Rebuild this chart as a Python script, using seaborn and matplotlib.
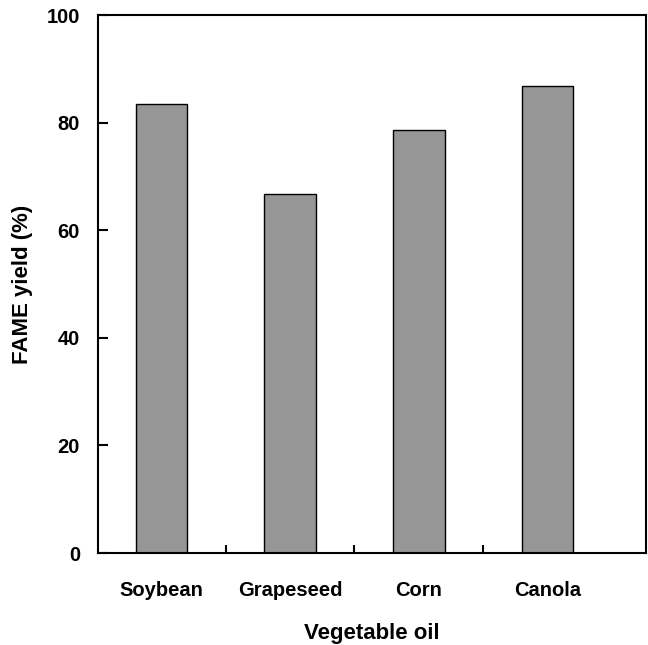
import matplotlib
matplotlib.use("Agg")
import matplotlib.pyplot as plt
import seaborn as sns
import pandas as pd
from matplotlib.ticker import FixedLocator

oils = ["Soybean", "Grapeseed", "Corn", "Canola"]
fame_yield = [83.5, 66.8, 78.6, 86.8]
y_ticks = [0, 20, 40, 60, 80, 100]

sns.set_style("ticks")
plt.rcParams['font.family'] = ['Liberation Sans', 'DejaVu Sans']
plt.rcParams['font.weight'] = 'bold'
plt.rcParams['text.color'] = 'black'
plt.rcParams['axes.labelcolor'] = 'black'
plt.rcParams['xtick.color'] = 'black'
plt.rcParams['ytick.color'] = 'black'

df = pd.DataFrame({"oil": oils, "yield": fame_yield})

fig = plt.figure(figsize=(6.48, 6.45), dpi=100)
ax = fig.add_axes([0.1512, 0.1426, 0.8457, 0.8341])

sns.barplot(data=df, x="oil", y="yield", ax=ax, color="#969696",
            saturation=1, width=0.4, edgecolor="black", linewidth=1.0)

ax.set_xlim(-0.492, 3.764)
ax.set_ylim(0, 100)
ax.set_yticks(y_ticks)
ax.set_yticklabels([str(t) for t in y_ticks], fontsize=14.5, fontweight='bold')
ax.set_xticks(range(len(oils)))
ax.set_xticklabels(oils, fontsize=14.5, fontweight='bold')
ax.xaxis.set_minor_locator(FixedLocator([0.5, 1.5, 2.5]))

ax.tick_params(axis='x', which='major', length=0, pad=20, labelcolor='black')
ax.tick_params(axis='x', which='minor', direction='in', length=5.5, width=1.5, color='black')
ax.tick_params(axis='y', which='major', direction='in', length=7, width=1.5, pad=13,
               color='black', labelcolor='black')

for side in ['left', 'right', 'top', 'bottom']:
    ax.spines[side].set_visible(True)
    ax.spines[side].set_linewidth(1.5)
    ax.spines[side].set_color('black')

ax.set_xlabel("Vegetable oil", fontsize=16, fontweight='bold', labelpad=17, color='black')
ax.set_ylabel("FAME yield (%)", fontsize=16, fontweight='bold', labelpad=10, color='black')

fig.savefig("out.png", dpi=100)
